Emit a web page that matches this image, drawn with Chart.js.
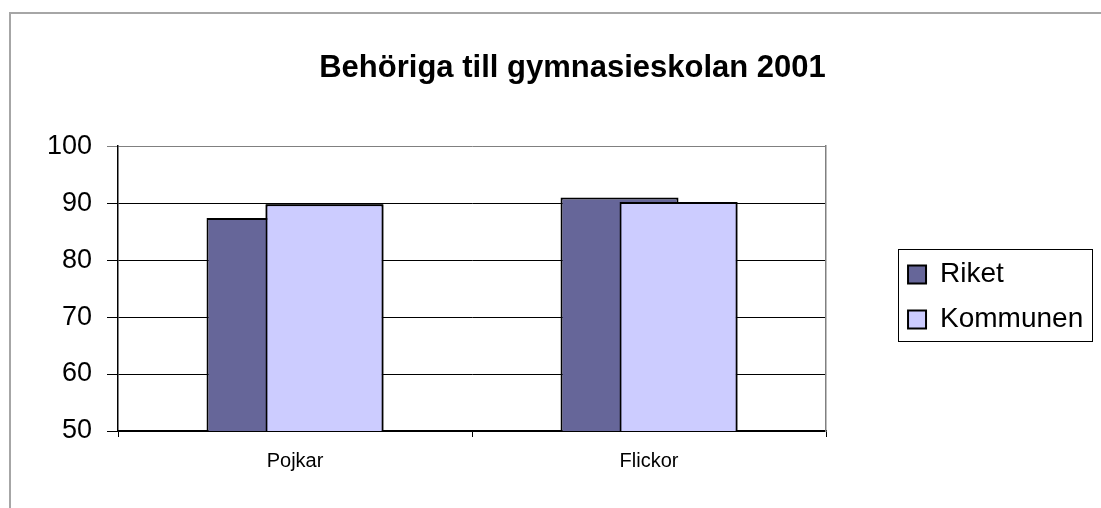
<!DOCTYPE html>
<html>
<head>
<meta charset="utf-8">
<script src="https://cdn.jsdelivr.net/npm/chart.js@4/dist/chart.umd.min.js"></script>
<style>
  body { margin: 0; overflow: hidden; background: #fff; }
  #frame { position: absolute; left: 9px; top: 12px; width: 1300px; height: 700px; border: 2px solid #a6a6a6; }
  #wrap { position: absolute; left: 0; top: 0; width: 1101px; height: 508px; }
</style>
</head>
<body>
<div id="frame"></div>
<div id="wrap"><canvas id="bar-chart"></canvas></div>
<script>
var categories = ["Pojkar", "Flickor"];
var riket = [87.4, 91.0];
var kommunen = [89.8, 90.2];
var yTicks = [50, 60, 70, 80, 90, 100];

var font = "'Liberation Sans', Arial, sans-serif";

// Kommunen ska ligga ovanpå Riket (Excel-överlapp)
var overlap = {
    id: 'overlap',
    afterDatasetsDraw: function(chart) {
        var a = chart.chartArea;
        var ctx = chart.ctx;
        ctx.save();
        ctx.beginPath();
        ctx.rect(a.left, a.top - 2, a.right - a.left, a.bottom - a.top + 2);
        ctx.clip();
        chart.getDatasetMeta(1).controller.draw();
        ctx.restore();
    }
};

// ram runt förklaringen
var legendBox = {
    id: 'legendBox',
    afterDraw: function(chart) {
        var hb = chart.legend.legendHitBoxes;
        if (!hb || !hb.length) return;
        var left = hb[0].left - 10;
        var right = chart.legend.right - 9;
        var top = hb[0].top - 12;
        var bottom = hb[hb.length - 1].top + hb[hb.length - 1].height + 7;
        var ctx = chart.ctx;
        ctx.save();
        ctx.strokeStyle = '#000';
        ctx.lineWidth = 1;
        ctx.strokeRect(Math.round(left) + 0.5, Math.round(top) + 0.5, Math.round(right - left), Math.round(bottom - top));
        ctx.restore();
    }
};

new Chart(document.getElementById("bar-chart"), {
    type: 'bar',
    data: {
        labels: categories,
        datasets: [{
            label: "Riket",
            data: riket,
            backgroundColor: "#666699",
            borderColor: "#000",
            borderWidth: 2,
            categoryPercentage: 0.3333,
            barPercentage: 2.0
        }, {
            label: "Kommunen",
            data: kommunen,
            backgroundColor: "#CCCCFF",
            borderColor: "#000",
            borderWidth: 2,
            categoryPercentage: 0.3333,
            barPercentage: 2.0
        }]
    },
    options: {
        responsive: true,
        maintainAspectRatio: false,
        animation: false,
        layout: { padding: { left: 44, right: 0, top: 0, bottom: 37 } },
        plugins: {
            title: {
                display: true,
                text: 'Behöriga till gymnasieskolan 2001',
                color: '#000',
                font: { family: font, size: 31, weight: 'bold' },
                padding: { top: 50, bottom: 59 }
            },
            legend: {
                position: 'right',
                fullSize: false,
                maxWidth: 300,
                title: { display: true, text: ' ', font: { size: 10 }, padding: { top: 5, bottom: 0 } },
                labels: {
                    color: '#000',
                    font: { family: font, size: 28 },
                    boxWidth: 18,
                    boxHeight: 18,
                    padding: 17,
                    generateLabels: function(chart) {
                        var items = Chart.defaults.plugins.legend.labels.generateLabels(chart);
                        items.forEach(function(it) { it.text = it.text + ' '; });
                        return items;
                    }
                }
            },
            tooltip: { enabled: false }
        },
        scales: {
            x: {
                grid: {
                    offset: true,
                    drawOnChartArea: false,
                    drawTicks: true,
                    tickLength: 6,
                    color: function(c) { return c.index === categories.length ? '#808080' : '#000'; }
                },
                border: { color: '#000', width: 1.5 },
                ticks: { color: '#000', font: { family: font, size: 20 }, padding: 12 },
                afterFit: function(axis) { axis.height = 40; }
            },
            y: {
                min: yTicks[0],
                max: yTicks[yTicks.length - 1],
                afterBuildTicks: function(axis) {
                    axis.ticks = yTicks.map(function(v) { return { value: v }; });
                },
                grid: {
                    tickLength: 11,
                    color: function(c) { return c.tick && c.tick.value === 100 ? '#808080' : '#000'; }
                },
                border: { color: '#000', width: 1.5 },
                ticks: { color: '#000', font: { family: font, size: 27 }, padding: 15 },
                afterFit: function(axis) { axis.width = 74; }
            },
            y2: {
                position: 'right',
                min: 50,
                max: 100,
                grid: { display: false },
                ticks: { display: false },
                border: { color: '#808080', width: 1.5 },
                afterFit: function(axis) { axis.width = 65; }
            }
        }
    },
    plugins: [overlap, legendBox]
});
</script>
</body>
</html>
